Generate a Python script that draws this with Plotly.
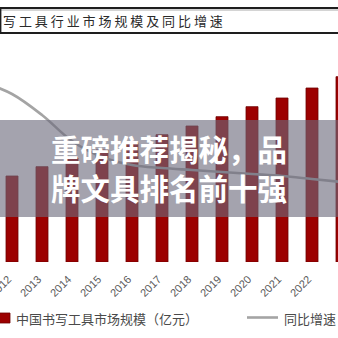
import plotly.graph_objects as go

# ---- data ----
years = [2011, 2012, 2013, 2014, 2015, 2016, 2017, 2018, 2019, 2020, 2021, 2022, 2023]
market_size = [117, 129, 143, 156, 168, 179, 191, 204, 218, 233, 246, 261, 278]   # 亿元
yoy_growth = [18.0, 16.8, 14.7, 12.1, 10.5, 9.7, 9.4, 9.2, 9.0, 8.8, 8.6, 8.3, 8.0]  # %
tick_years = [2012, 2013, 2014, 2015, 2016, 2017, 2018, 2019, 2020, 2021, 2022, 2023]

title_text = "写工具行业市场规模及同比增速"
legend_bar = "中国书写工具市场规模（亿元）"
legend_line = "同比增速"
overlay_lines = ["重磅推荐揭秘，品", "牌文具排名前十强"]

W = H = 338
CJK = "Noto Sans CJK SC"


def py(px):
    """pixel row -> paper y"""
    return 1 - px / H


def pxx(px):
    return px / W


fig = go.Figure()

fig.add_trace(go.Bar(
    x=years, y=market_size, width=0.4,
    marker=dict(color="#9C0000", line=dict(color="#6E0000", width=0.8)),
    showlegend=False, yaxis="y",
))
fig.add_trace(go.Scatter(
    x=years, y=yoy_growth, mode="lines",
    line=dict(color="#A4A4A4", width=2.6, shape="spline", smoothing=1),
    showlegend=False, yaxis="y2",
))

shapes = []
annotations = []

# header box
shapes.append(dict(type="line", xref="paper", yref="paper", x0=0, x1=1, y0=py(8), y1=py(8),
                   line=dict(color="#1E1E1E", width=2)))
shapes.append(dict(type="line", xref="paper", yref="paper", x0=0, x1=1, y0=py(10), y1=py(10),
                   line=dict(color="#AAAAAA", width=1)))
shapes.append(dict(type="line", xref="paper", yref="paper", x0=0, x1=1, y0=py(33), y1=py(33),
                   line=dict(color="#1E1E1E", width=2)))
shapes.append(dict(type="line", xref="paper", yref="paper", x0=pxx(0.7), x1=pxx(0.7), y0=py(8), y1=py(33),
                   line=dict(color="#1E1E1E", width=1.4)))
annotations.append(dict(text=" ".join(title_text), xref="paper", yref="paper",
                        x=pxx(1), y=py(21), xanchor="left", yanchor="middle", showarrow=False,
                        font=dict(family=CJK, size=13, color="#2A2A2A")))

# x tick labels (rotated)
for yr in tick_years:
    annotations.append(dict(text=str(yr), xref="x", yref="paper", x=yr, y=py(270),
                            xanchor="right", yanchor="top", xshift=4, showarrow=False,
                            textangle=-45,
                            font=dict(family="Liberation Sans, Arial", size=11, color="#5A5A5A")))

# legend (drawn manually)
shapes.append(dict(type="rect", xref="paper", yref="paper", x0=pxx(-2), x1=pxx(10),
                   y0=py(323), y1=py(313), fillcolor="#9C0000", line=dict(color="#6E0000", width=0.8)))
annotations.append(dict(text=legend_bar, xref="paper", yref="paper", x=pxx(14), y=py(318),
                        xanchor="left", yanchor="middle", showarrow=False,
                        font=dict(family=CJK, size=13, color="#4A4A4A")))
shapes.append(dict(type="line", xref="paper", yref="paper", x0=pxx(247), x1=pxx(278),
                   y0=py(317.5), y1=py(317.5), line=dict(color="#A4A4A4", width=2.6)))
annotations.append(dict(text=legend_line, xref="paper", yref="paper", x=pxx(282), y=py(318),
                        xanchor="left", yanchor="middle", showarrow=False,
                        font=dict(family=CJK, size=13, color="#4A4A4A")))

# translucent overlay band with headline
shapes.append(dict(type="rect", xref="paper", yref="paper", x0=0, x1=1, y0=py(217), y1=py(120),
                   fillcolor="rgba(108,106,124,0.62)", line=dict(width=0), layer="above"))
for i, t in enumerate(overlay_lines):
    annotations.append(dict(text="<b>" + t + "</b>", xref="paper", yref="paper",
                            x=pxx(169), y=py(148 + 39 * i), xanchor="center", yanchor="middle",
                            showarrow=False,
                            font=dict(family=CJK, size=29.5, color="#FFFFFF")))

x0 = 2012 + (0 - 12) / 30
x1 = 2012 + (W - 12) / 30

fig.update_layout(
    width=W, height=H, autosize=False,
    margin=dict(l=0, r=0, t=0, b=0, pad=0),
    paper_bgcolor="white", plot_bgcolor="white",
    xaxis=dict(range=[x0, x1], domain=[0, 1], showticklabels=False, showgrid=False,
               zeroline=False, showline=False, ticks=""),
    yaxis=dict(range=[0, 393], domain=[76 / H, 1], visible=False, showgrid=False, zeroline=False),
    yaxis2=dict(range=[0, 26.2], overlaying="y", visible=False, showgrid=False, zeroline=False),
    bargap=0.6,
    shapes=shapes,
    annotations=annotations,
)

fig.write_html("out.html", config=dict(displayModeBar=False))
